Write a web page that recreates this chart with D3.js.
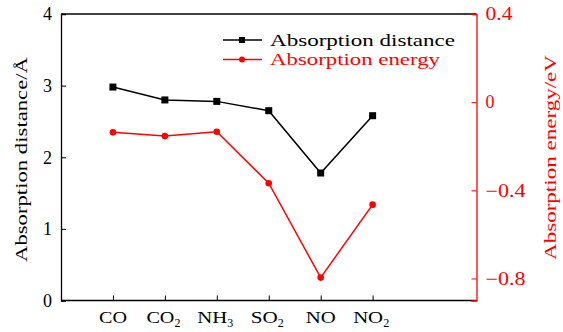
<!DOCTYPE html>
<html><head><meta charset="utf-8">
<script src="https://cdn.jsdelivr.net/npm/d3@7"></script>
<style>body{margin:0;background:#fff}svg{display:block}text{font-family:"Liberation Serif","DejaVu Serif",serif}</style>
</head><body><svg id="c" width="563" height="332"></svg>
<script>
const categories = [["CO",""],["CO","2"],["NH","3"],["SO","2"],["NO",""],["NO","2"]];
const distance = [2.98, 2.80, 2.78, 2.65, 1.78, 2.58];
const energy = [-0.137, -0.154, -0.134, -0.368, -0.796, -0.465];
const leftTicks = [0,1,2,3,4];
const rightTicks = [0.4, 0, -0.4, -0.8];
const seriesNames = ["Absorption distance","Absorption energy"];

const svg = d3.select("#c");
const L=61, R=476.5, T=14, B=300.5;
const x = d3.scaleLinear().domain([0,8]).range([L,R]);
const yL = d3.scaleLinear().domain([0,4]).range([B,T]);
const yR = d3.scaleLinear().domain([-0.9,0.4]).range([B,T]);
const idx = d3.range(categories.length);
const RED = "#ff0000";
const stretch = (sel,w)=>sel.attr("textLength",w).attr("lengthAdjust","spacingAndGlyphs");

// frame
svg.append("line").attr("x1",L).attr("x2",R).attr("y1",T).attr("y2",T).attr("stroke","#000").attr("stroke-width",1.3);
svg.append("line").attr("x1",L).attr("x2",R).attr("y1",B).attr("y2",B).attr("stroke","#000").attr("stroke-width",1.3);

// left axis
const gl = svg.append("g").attr("transform",`translate(${L},0)`)
  .call(d3.axisLeft(yL).tickValues(leftTicks).tickSize(-5).tickPadding(9).tickFormat(d3.format("d")));
gl.select(".domain").attr("stroke-width",1.3);
gl.selectAll("text").attr("font-size",18).attr("fill","#000");

// right axis
const gr = svg.append("g").attr("transform",`translate(${R},0)`)
  .call(d3.axisRight(yR).tickValues(rightTicks).tickSize(-5).tickPadding(9)
   .tickFormat(d=> d===0?"0":(d<0?"\u2212"+Math.abs(d).toFixed(1):d.toFixed(1))));
gr.select(".domain").attr("stroke",RED).attr("stroke-width",1.3);
gr.selectAll("line").attr("stroke",RED);
gr.selectAll("text").attr("font-size",18).attr("fill",RED);
gr.selectAll("text").each(function(d){ if(d!==0) stretch(d3.select(this), d<0?40:27); });

// bottom axis
const gb = svg.append("g").attr("transform",`translate(0,${B})`)
  .call(d3.axisBottom(x).tickValues(idx.map(i=>i+1)).tickSize(-5).tickFormat(""));
gb.select(".domain").remove();
idx.forEach(i=>{
  const main = categories[i][0], sub = categories[i][1];
  const w = main==="CO"?28:(main==="SO"?27:30);
  const total = w + (sub?9:0);
  const t = svg.append("text").attr("x",x(i+1)-total/2).attr("y",322.5).attr("font-size",17);
  stretch(t.append("tspan").text(main), w);
  if(sub) t.append("tspan").attr("font-size",12).attr("dy",4).text(sub);
});

// axis titles
stretch(svg.append("text").attr("transform",`translate(27,${159.5}) rotate(-90)`).attr("text-anchor","middle").attr("font-size",17).text("Absorption distance/\u00C5"), 205);
stretch(svg.append("text").attr("transform",`translate(556,${157.5}) rotate(-90)`).attr("text-anchor","middle").attr("font-size",17).attr("fill",RED).text("Absorption energy/eV"), 205);

// lines
const lineL = d3.line().x((d,i)=>x(i+1)).y(d=>yL(d));
const lineR = d3.line().x((d,i)=>x(i+1)).y(d=>yR(d));
svg.append("path").attr("d",lineL(distance)).attr("fill","none").attr("stroke","#000").attr("stroke-width",1.5);
svg.append("path").attr("d",lineR(energy)).attr("fill","none").attr("stroke",RED).attr("stroke-width",1.5);
svg.selectAll(".sq").data(distance).enter().append("rect")
  .attr("x",(d,i)=>x(i+1)-3.5).attr("y",d=>yL(d)-3.5).attr("width",7).attr("height",7).attr("fill","#000");
svg.selectAll(".ci").data(energy).enter().append("circle")
  .attr("cx",(d,i)=>x(i+1)).attr("cy",d=>yR(d)).attr("r",3.3).attr("fill",RED);

// legend
const lg = svg.append("g");
[[40,"#000","sq",185],[59.5,RED,"ci",170]].forEach((e,k)=>{
  lg.append("line").attr("x1",223).attr("x2",262).attr("y1",e[0]).attr("y2",e[0]).attr("stroke",e[1]).attr("stroke-width",1.5);
  if(e[2]==="sq") lg.append("rect").attr("x",239).attr("y",e[0]-3).attr("width",6).attr("height",6).attr("fill",e[1]);
  else lg.append("circle").attr("cx",242).attr("cy",e[0]).attr("r",3).attr("fill",e[1]);
  stretch(lg.append("text").attr("x",270).attr("y",e[0]+5.5).attr("font-size",17).attr("fill",e[1]).text(seriesNames[k]), e[3]);
});
</script></body></html>
